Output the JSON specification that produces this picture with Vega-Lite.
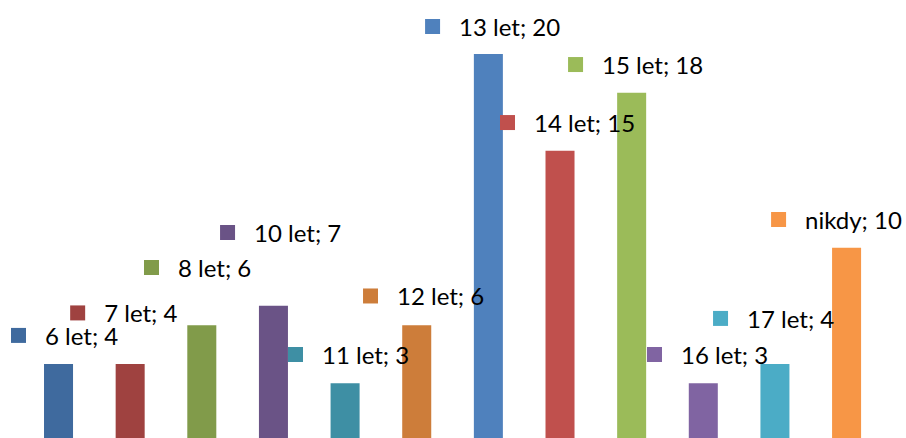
{
  "$schema": "https://vega.github.io/schema/vega-lite/v6.json",
  "autosize": "none",
  "width": 859.7,
  "height": 384,
  "padding": {"left": 22.7, "top": 54, "right": 23.6, "bottom": 0},
  "background": "white",
  "config": {
    "view": {"stroke": null},
    "text": {"font": "Lato", "fontSize": 24}
  },
  "data": {
    "values": [
      {"cat": "6 let", "n": 4},
      {"cat": "7 let", "n": 4},
      {"cat": "8 let", "n": 6},
      {"cat": "10 let", "n": 7},
      {"cat": "11 let", "n": 3},
      {"cat": "12 let", "n": 6},
      {"cat": "13 let", "n": 20},
      {"cat": "14 let", "n": 15},
      {"cat": "15 let", "n": 18},
      {"cat": "16 let", "n": 3},
      {"cat": "17 let", "n": 4},
      {"cat": "nikdy", "n": 10}
    ]
  },
  "transform": [{"calculate": "datum.cat + '; ' + datum.n", "as": "label"}],
  "encoding": {
    "x": {
      "field": "cat", "type": "nominal", "sort": null, "axis": null,
      "scale": {"paddingInner": 0.595, "paddingOuter": 0.2975}
    },
    "y": {
      "field": "n", "type": "quantitative", "axis": null,
      "scale": {"domain": [0, 20], "nice": false, "range": [387.4, 0]}
    },
    "color": {
      "field": "cat", "type": "nominal", "sort": null, "legend": null,
      "scale": {
        "domain": ["6 let", "7 let", "8 let", "10 let", "11 let", "12 let", "13 let", "14 let", "15 let", "16 let", "17 let", "nikdy"],
        "range": ["#3F6A9E", "#9F4240", "#819B4A", "#6A5386", "#3E8FA4", "#CD7D3A", "#4F81BD", "#C0504D", "#9BBB59", "#8064A2", "#4BACC6", "#F79646"]
      }
    }
  },
  "layer": [
    {"mark": {"type": "bar", "clip": false}},
    {
      "transform": [{"filter": "datum.cat == '6 let'"}],
      "layer": [
        {"mark": {"type": "point", "shape": "square", "filled": true, "opacity": 1, "size": 225, "strokeWidth": 0, "xOffset": -40, "yOffset": -28.5}},
        {"mark": {"type": "text", "align": "left", "baseline": "alphabetic", "dx": -13.5, "dy": -19}, "encoding": {"text": {"field": "label"}, "color": {"value": "#000000"}}}
      ]
    },
    {
      "transform": [{"filter": "datum.cat == '7 let'"}],
      "layer": [
        {"mark": {"type": "point", "shape": "square", "filled": true, "opacity": 1, "size": 225, "strokeWidth": 0, "xOffset": -52.5, "yOffset": -51}},
        {"mark": {"type": "text", "align": "left", "baseline": "alphabetic", "dx": -26, "dy": -41.5}, "encoding": {"text": {"field": "label"}, "color": {"value": "#000000"}}}
      ]
    },
    {
      "transform": [{"filter": "datum.cat == '8 let'"}],
      "layer": [
        {"mark": {"type": "point", "shape": "square", "filled": true, "opacity": 1, "size": 225, "strokeWidth": 0, "xOffset": -50.3, "yOffset": -57.7}},
        {"mark": {"type": "text", "align": "left", "baseline": "alphabetic", "dx": -23.8, "dy": -48.2}, "encoding": {"text": {"field": "label"}, "color": {"value": "#000000"}}}
      ]
    },
    {
      "transform": [{"filter": "datum.cat == '10 let'"}],
      "layer": [
        {"mark": {"type": "point", "shape": "square", "filled": true, "opacity": 1, "size": 225, "strokeWidth": 0, "xOffset": -45.9, "yOffset": -73.3}},
        {"mark": {"type": "text", "align": "left", "baseline": "alphabetic", "dx": -19.4, "dy": -63.8}, "encoding": {"text": {"field": "label"}, "color": {"value": "#000000"}}}
      ]
    },
    {
      "transform": [{"filter": "datum.cat == '11 let'"}],
      "layer": [
        {"mark": {"type": "point", "shape": "square", "filled": true, "opacity": 1, "size": 225, "strokeWidth": 0, "xOffset": -49.6, "yOffset": -28.8}},
        {"mark": {"type": "text", "align": "left", "baseline": "alphabetic", "dx": -23.1, "dy": -19.3}, "encoding": {"text": {"field": "label"}, "color": {"value": "#000000"}}}
      ]
    },
    {
      "transform": [{"filter": "datum.cat == '12 let'"}],
      "layer": [
        {"mark": {"type": "point", "shape": "square", "filled": true, "opacity": 1, "size": 225, "strokeWidth": 0, "xOffset": -46.2, "yOffset": -29.2}},
        {"mark": {"type": "text", "align": "left", "baseline": "alphabetic", "dx": -19.7, "dy": -19.7}, "encoding": {"text": {"field": "label"}, "color": {"value": "#000000"}}}
      ]
    },
    {
      "transform": [{"filter": "datum.cat == '13 let'"}],
      "layer": [
        {"mark": {"type": "point", "shape": "square", "filled": true, "opacity": 1, "size": 225, "strokeWidth": 0, "xOffset": -55.8, "yOffset": -27.5}},
        {"mark": {"type": "text", "align": "left", "baseline": "alphabetic", "dx": -29.3, "dy": -18}, "encoding": {"text": {"field": "label"}, "color": {"value": "#000000"}}}
      ]
    },
    {
      "transform": [{"filter": "datum.cat == '14 let'"}],
      "layer": [
        {"mark": {"type": "point", "shape": "square", "filled": true, "opacity": 1, "size": 225, "strokeWidth": 0, "xOffset": -52.5, "yOffset": -28.3}},
        {"mark": {"type": "text", "align": "left", "baseline": "alphabetic", "dx": -26, "dy": -18.8}, "encoding": {"text": {"field": "label"}, "color": {"value": "#000000"}}}
      ]
    },
    {
      "transform": [{"filter": "datum.cat == '15 let'"}],
      "layer": [
        {"mark": {"type": "point", "shape": "square", "filled": true, "opacity": 1, "size": 225, "strokeWidth": 0, "xOffset": -56.1, "yOffset": -28.2}},
        {"mark": {"type": "text", "align": "left", "baseline": "alphabetic", "dx": -29.6, "dy": -18.7}, "encoding": {"text": {"field": "label"}, "color": {"value": "#000000"}}}
      ]
    },
    {
      "transform": [{"filter": "datum.cat == '16 let'"}],
      "layer": [
        {"mark": {"type": "point", "shape": "square", "filled": true, "opacity": 1, "size": 225, "strokeWidth": 0, "xOffset": -48.8, "yOffset": -28.8}},
        {"mark": {"type": "text", "align": "left", "baseline": "alphabetic", "dx": -22.3, "dy": -19.3}, "encoding": {"text": {"field": "label"}, "color": {"value": "#000000"}}}
      ]
    },
    {
      "transform": [{"filter": "datum.cat == '17 let'"}],
      "layer": [
        {"mark": {"type": "point", "shape": "square", "filled": true, "opacity": 1, "size": 225, "strokeWidth": 0, "xOffset": -54.4, "yOffset": -45.5}},
        {"mark": {"type": "text", "align": "left", "baseline": "alphabetic", "dx": -27.9, "dy": -36}, "encoding": {"text": {"field": "label"}, "color": {"value": "#000000"}}}
      ]
    },
    {
      "transform": [{"filter": "datum.cat == 'nikdy'"}],
      "layer": [
        {"mark": {"type": "point", "shape": "square", "filled": true, "opacity": 1, "size": 225, "strokeWidth": 0, "xOffset": -68, "yOffset": -28.2}},
        {"mark": {"type": "text", "align": "left", "baseline": "alphabetic", "dx": -41.5, "dy": -18.7}, "encoding": {"text": {"field": "label"}, "color": {"value": "#000000"}}}
      ]
    }
  ]
}
